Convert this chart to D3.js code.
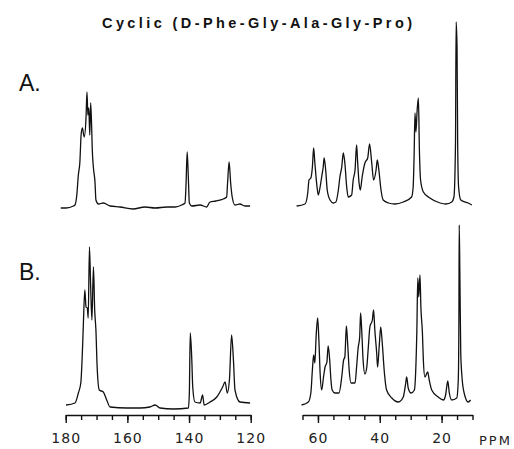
<!DOCTYPE html>
<html>
<head>
<meta charset="utf-8">
<script src="https://cdn.jsdelivr.net/npm/d3@7"></script>
<style>
  body { margin: 0; background: #fff; }
  svg { display: block; }
  .trace { fill: none; stroke: #111; stroke-width: 1.3; stroke-linejoin: round; }
  .axis path, .axis line { stroke: #111; stroke-width: 1.4; }
  .axis text { font-family: 'DejaVu Sans', sans-serif; font-size: 14px; fill: #222; }
</style>
</head>
<body>
<div id="chart"></div>
<script>
const title = 'Cyclic (D-Phe-Gly-Ala-Gly-Pro)'
const traceLabels = ['A.', 'B.']

// tick labels (ppm)
const leftLabels = [180, 160, 140, 120]
const rightLabels = [60, 40, 20]
const leftMinor = [180, 175, 170, 165, 160, 155, 150, 145, 140, 135, 130, 125, 120]
const rightMinor = [65, 60, 55, 50, 45, 40, 35, 30, 25, 20, 15, 10]

// spectrum A, [ppm, intensity]
const specALeft = [
  [181.6, 0], [179.9, 0], [177.5, 2], [177.0, 3], [176.4, 13], [175.9, 33], [175.4, 46],
  [175.0, 73], [174.6, 80], [174.0, 71], [173.4, 91], [173.1, 116], [172.8, 93], [172.5, 100],
  [172.2, 73], [171.9, 105], [171.6, 83], [171.4, 60], [171.0, 40], [170.5, 26], [170.2, 8],
  [169.4, 4], [167.8, 5], [165.6, 2], [162.4, 1], [158.2, -1], [154.3, 1], [151.0, 0],
  [147.2, 1], [144.5, 1], [142.4, 3], [141.3, 5], [141.0, 21], [140.6, 56], [140.2, 28],
  [139.9, 5], [139.1, 2], [136.4, 3], [134.3, 1], [133.2, 6], [131.3, 7], [128.9, 9],
  [127.8, 11], [127.5, 25], [127.0, 46], [126.5, 25], [126.0, 11], [125.1, 3], [123.5, 4],
  [121.9, 2], [120.2, 2]
]
const specARight = [
  [66.9, 2], [64.2, 4], [63.3, 15], [62.9, 28], [62.3, 30], [61.8, 41], [61.4, 60], [61.0, 45],
  [60.3, 21], [59.9, 13], [59.3, 21], [58.8, 31], [58.3, 41], [58.0, 50], [57.5, 38], [57.0, 18],
  [56.1, 8], [55.0, 5], [54.2, 6], [53.4, 18], [52.9, 31], [52.3, 41], [51.8, 55], [51.3, 45],
  [50.7, 21], [50.2, 11], [49.1, 13], [48.6, 28], [48.0, 38], [47.5, 63], [47.2, 48], [46.7, 25],
  [46.3, 18], [45.7, 31], [44.8, 45], [43.9, 50], [43.3, 64], [42.6, 45], [42.0, 28], [41.2, 38],
  [40.8, 48], [40.3, 38], [39.6, 18], [38.9, 8], [37.2, 5], [35.1, 4], [32.4, 6], [29.7, 11],
  [29.2, 21], [28.9, 51], [28.6, 95], [28.3, 76], [27.9, 98], [27.5, 110], [27.2, 61], [26.8, 28],
  [25.9, 16], [23.8, 10], [20.5, 5], [18.6, 4], [16.7, 6], [16.0, 11], [15.5, 65], [15.3, 186],
  [15.0, 161], [14.8, 65], [14.5, 21], [13.8, 8], [11.4, 5], [10.2, 3]
]

// spectrum B
const specBLeft = [
  [179.9, 4], [177.0, 6], [175.9, 16], [175.1, 26], [174.6, 56], [174.3, 82], [173.8, 119],
  [173.4, 102], [173.0, 101], [172.7, 91], [172.3, 162], [171.9, 122], [171.5, 89], [171.0, 142],
  [170.6, 99], [170.2, 79], [169.8, 42], [169.1, 19], [167.8, 17], [166.7, 9], [165.6, 2],
  [160.2, 1], [155.9, 1], [152.7, 2], [151.0, 4], [149.4, 1], [145.1, 0], [140.2, 1],
  [139.9, 16], [139.6, 76], [139.1, 49], [138.8, 22], [138.1, 7], [136.4, 6], [135.6, 14],
  [135.1, 4], [133.2, 7], [131.0, 12], [129.1, 22], [128.3, 27], [127.6, 16], [126.9, 29],
  [126.2, 74], [125.6, 49], [125.1, 19], [123.5, 7], [120.2, 6]
]
const specBRight = [
  [65.3, 4], [63.1, 7], [62.3, 16], [61.8, 39], [61.4, 54], [61.0, 46], [60.6, 72], [60.1, 91],
  [59.7, 69], [59.3, 36], [58.8, 19], [58.2, 32], [57.7, 42], [57.1, 47], [56.7, 63], [56.2, 49],
  [55.8, 29], [55.4, 19], [54.5, 16], [53.2, 16], [52.3, 32], [51.7, 49], [51.3, 52], [50.8, 83],
  [50.4, 66], [49.9, 39], [49.3, 26], [48.0, 26], [47.5, 42], [47.0, 61], [46.5, 72], [46.2, 96],
  [45.8, 76], [45.4, 49], [44.8, 35], [44.2, 42], [43.7, 62], [43.2, 82], [42.4, 89], [42.0, 99],
  [41.6, 79], [41.0, 56], [40.7, 42], [40.2, 62], [39.7, 82], [39.2, 66], [38.5, 36], [37.8, 19],
  [36.1, 11], [34.0, 7], [32.4, 12], [31.6, 26], [31.3, 32], [30.8, 21], [29.9, 16], [28.8, 19],
  [28.4, 36], [28.0, 79], [27.7, 131], [27.4, 112], [27.0, 134], [26.7, 102], [26.2, 76],
  [25.9, 49], [25.4, 32], [24.5, 37], [24.0, 29], [23.2, 19], [21.1, 12], [19.4, 9], [18.7, 14],
  [18.0, 28], [17.5, 16], [16.7, 9], [15.1, 11], [14.6, 29], [14.4, 89], [14.3, 184], [14.1, 139],
  [13.8, 56], [13.4, 32], [12.7, 16], [11.4, 7], [10.6, 9]
]

const width = 514, height = 449
const axisY = 415

const svg = d3.select('#chart').append('svg')
  .attr('width', width).attr('height', height)

const xLeft = d3.scaleLinear().domain([180, 120]).range([65.7, 250.7])
const xRight = d3.scaleLinear().domain([65, 10]).range([302.5, 472.5])
const yA = d3.scaleLinear().domain([0, 200]).range([208, 8])
const yB = d3.scaleLinear().domain([0, 200]).range([409, 209])

const traces = [
  { data: specALeft, x: xLeft, y: yA },
  { data: specARight, x: xRight, y: yA },
  { data: specBLeft, x: xLeft, y: yB },
  { data: specBRight, x: xRight, y: yB }
]

svg.append('g').selectAll('path')
  .data(traces)
  .join('path')
    .attr('class', 'trace')
    .attr('d', t => d3.line().curve(d3.curveMonotoneX).x(d => t.x(d[0])).y(d => t.y(d[1]))(t.data))

// axes: minor ticks, then labelled major ticks on top
function drawAxis(scale, minor, labels) {
  svg.append('g').attr('class', 'axis')
    .attr('transform', `translate(0, ${axisY})`)
    .call(d3.axisBottom(scale).tickValues(minor).tickSize(5).tickSizeOuter(0).tickFormat(''))
  svg.append('g').attr('class', 'axis')
    .attr('transform', `translate(0, ${axisY})`)
    .call(d3.axisBottom(scale).tickValues(labels).tickSize(8).tickSizeOuter(0).tickPadding(10))
    .call(g => g.select('.domain').remove())
    .call(g => g.selectAll('text').attr('letter-spacing', '1px'))
}
drawAxis(xLeft, leftMinor, leftLabels)
drawAxis(xRight, rightMinor, rightLabels)

svg.append('text')
  .attr('x', 479).attr('y', 445)
  .attr('font-family', 'DejaVu Sans, sans-serif').attr('font-size', 13)
  .attr('letter-spacing', '2px').attr('fill', '#222')
  .text('PPM')

svg.append('text')
  .attr('x', 102).attr('y', 28)
  .attr('font-family', 'Liberation Sans, Arial, sans-serif').attr('font-weight', 'bold')
  .attr('font-size', 14.5).attr('fill', '#111')
  .attr('textLength', 310).attr('lengthAdjust', 'spacing')
  .text(title)

svg.append('g').selectAll('text')
  .data(traceLabels)
  .join('text')
    .attr('x', 19)
    .attr('y', (d, i) => i === 0 ? 91 : 280)
    .attr('font-family', 'Liberation Sans, Arial, sans-serif')
    .attr('font-size', 23).attr('fill', '#111')
    .text(d => d)
</script>
</body>
</html>
